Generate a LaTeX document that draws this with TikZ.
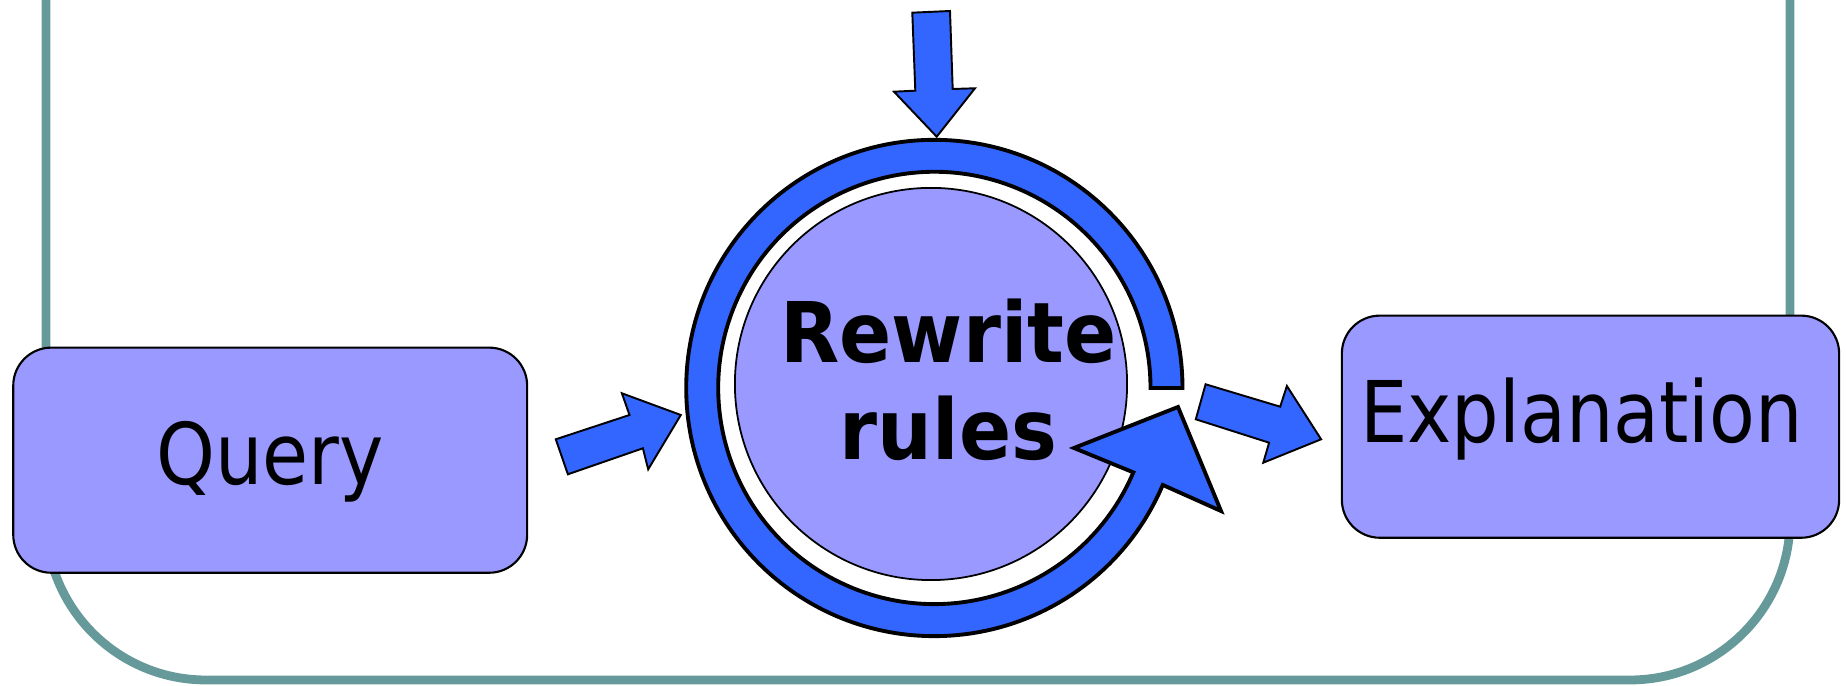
\documentclass[tikz,border=0pt]{standalone}
\usepackage{fontspec}
\newfontfamily\lblfont[FakeStretch=0.88]{DejaVu Sans}
\newfontfamily\rwfont[FakeStretch=0.92]{DejaVu Sans}
\definecolor{boxfill}{HTML}{9999FF}
\definecolor{arrowblue}{HTML}{3366FF}
\definecolor{frameteal}{HTML}{669999}
\begin{document}
\begin{tikzpicture}[x=0.01cm,y=0.01cm,
  framepath/.style={draw=frameteal,line width=2.5pt,rounded corners=45.5pt},
  roundbox/.style={draw=black,line width=0.6pt,fill=boxfill,rounded corners=10.8pt,inner sep=0pt,outer sep=0pt},
  blockarrow/.style={draw=black,line width=0.55pt,fill=arrowblue,line join=miter},
  ringarrow/.style={draw=black,line width=1.1pt,fill=arrowblue,line join=miter},
  disk/.style={circle,draw=black,line width=0.5pt,fill=boxfill,inner sep=0pt,outer sep=0pt},
  lbl/.style={font=\lblfont\fontsize{24.2pt}{29pt}\selectfont,inner sep=0pt,anchor=base},
  rwlbl/.style={font=\rwfont\bfseries\fontsize{23.8pt}{27pt}\selectfont,inner sep=0pt,anchor=base}]
\useasboundingbox (0,0) rectangle (1847,-686);
% outer frame
\coordinate (ftl) at (46,0);
\coordinate (fbl) at (46,-680);
\coordinate (fbr) at (1790,-680);
\coordinate (ftr) at (1790,0);
\draw[framepath] (ftl) -- (fbl) -- (fbr) -- (ftr);
% boxes
\node[roundbox,minimum width=5.136cm,minimum height=2.25cm] (query) at (270.2,-460.2) {};
\node[roundbox,minimum width=4.97cm,minimum height=2.22cm] (expl) at (1590.5,-426.7) {};
% inner disk
\node[disk,minimum size=3.92cm] (disk) at (931,-384) {};
% circular arrow
\coordinate (rc) at (934.5,-388);
\draw[ringarrow] ([shift={(0:248)}]rc) arc[start angle=0,end angle=337,radius=2.48cm]
  -- (1221,-511) -- (1178,-407) -- (1074,-448)
  -- ([shift={(337:216)}]rc) arc[start angle=337,end angle=0,radius=2.16cm] -- cycle;
% top input arrow
\draw[blockarrow] (912.3,-12.7) -- (950,-11) -- (952.7,-89) -- (975,-88.3) -- (936.7,-136.7) -- (894,-91.7) -- (915.3,-90.7) -- cycle;
% query -> rules arrow
\draw[blockarrow] (555.8,-439.3) -- (629.5,-415) -- (621.9,-393.3) -- (680.8,-415) -- (648.2,-469.3) -- (642.9,-448.3) -- (567.9,-474.3) -- cycle;
% rules -> explanation arrow
\draw[blockarrow] (1205.6,-384.3) -- (1280.2,-406.7) -- (1286.9,-386) -- (1321.1,-439.3) -- (1263.3,-462.7) -- (1269.1,-442.7) -- (1195.8,-419.3) -- cycle;
% texts
\node[lbl] (querytext) at (270,-485) {Query};
\node[lbl] (expltext) at (1581.5,-442.7) {Explanation};
\node[rwlbl] (rwtext) at (948.5,-363) {Rewrite};
\node[rwlbl] (rulestext) at (948.5,-459.3) {rules};
\end{tikzpicture}
\end{document}
